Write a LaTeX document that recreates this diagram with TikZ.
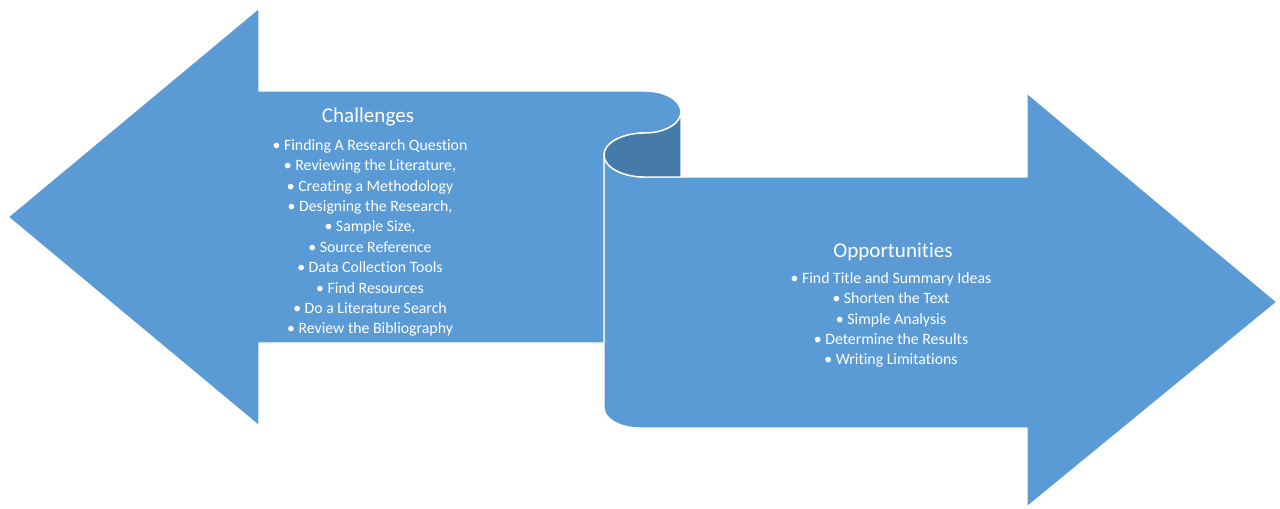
\documentclass[tikz,border=0pt]{standalone}
\usepackage{fontspec}
\setmainfont{Carlito}[Ligatures=NoCommon]
\definecolor{arrowblue}{RGB}{91,155,213}
\definecolor{curlblue}{RGB}{70,122,168}

\begin{document}
\begin{tikzpicture}[x=0.2mm,y=0.2mm]
\tikzstyle{arrowbody}=[fill=arrowblue,draw=white,line width=0.8pt,line join=round]
\tikzstyle{titletext}=[text=white,inner sep=0pt,font=\fontsize{12}{14}\selectfont]
\tikzstyle{itemtext}=[text=white,inner sep=0pt,align=center,font=\fontsize{9}{11.6}\selectfont]
\useasboundingbox (0,0) rectangle (1280,508);

% right arrow, top edge follows the curl
\path[arrowbody] (604,353) arc (180:270:41 and 22) -- (1027,331) -- (1027,415)
    -- (1277,206) -- (1027,1) -- (1027,80) -- (640,80) arc (270:180:36 and 20) -- cycle;

% left arrow, rolled over at the right end
\path[arrowbody] (259,417) -- (645,417) arc (90:-90:36 and 21) arc (90:180:41 and 22)
    -- (604,165) -- (259,165) -- (259,82) -- (8,291) -- (259,500) -- cycle;

% back side of the roll
\path[arrowbody,fill=curlblue] (681,396) arc (0:-90:36 and 21) arc (90:270:41 and 22)
    -- (681,331) -- cycle;

\node[titletext] (chal) at (368,391) {Challenges};
\node[itemtext] (chalitems) at (370,270) {\textbullet{} Finding A Research Question\\
    \textbullet{} Reviewing the Literature,\\
    \textbullet{} Creating a Methodology\\
    \textbullet{} Designing the Research,\\
    \textbullet{} Sample Size,\\
    \textbullet{} Source Reference\\
    \textbullet{} Data Collection Tools\\
    \textbullet{} Find Resources\\
    \textbullet{} Do a Literature Search\\
    \textbullet{} Review the Bibliography};

\node[titletext] (opp) at (893,256) {Opportunities};
\node[itemtext] (oppitems) at (891,188) {\textbullet{} Find Title and Summary Ideas\\
    \textbullet{} Shorten the Text\\
    \textbullet{} Simple Analysis\\
    \textbullet{} Determine the Results\\
    \textbullet{} Writing Limitations};
\end{tikzpicture}
\end{document}
